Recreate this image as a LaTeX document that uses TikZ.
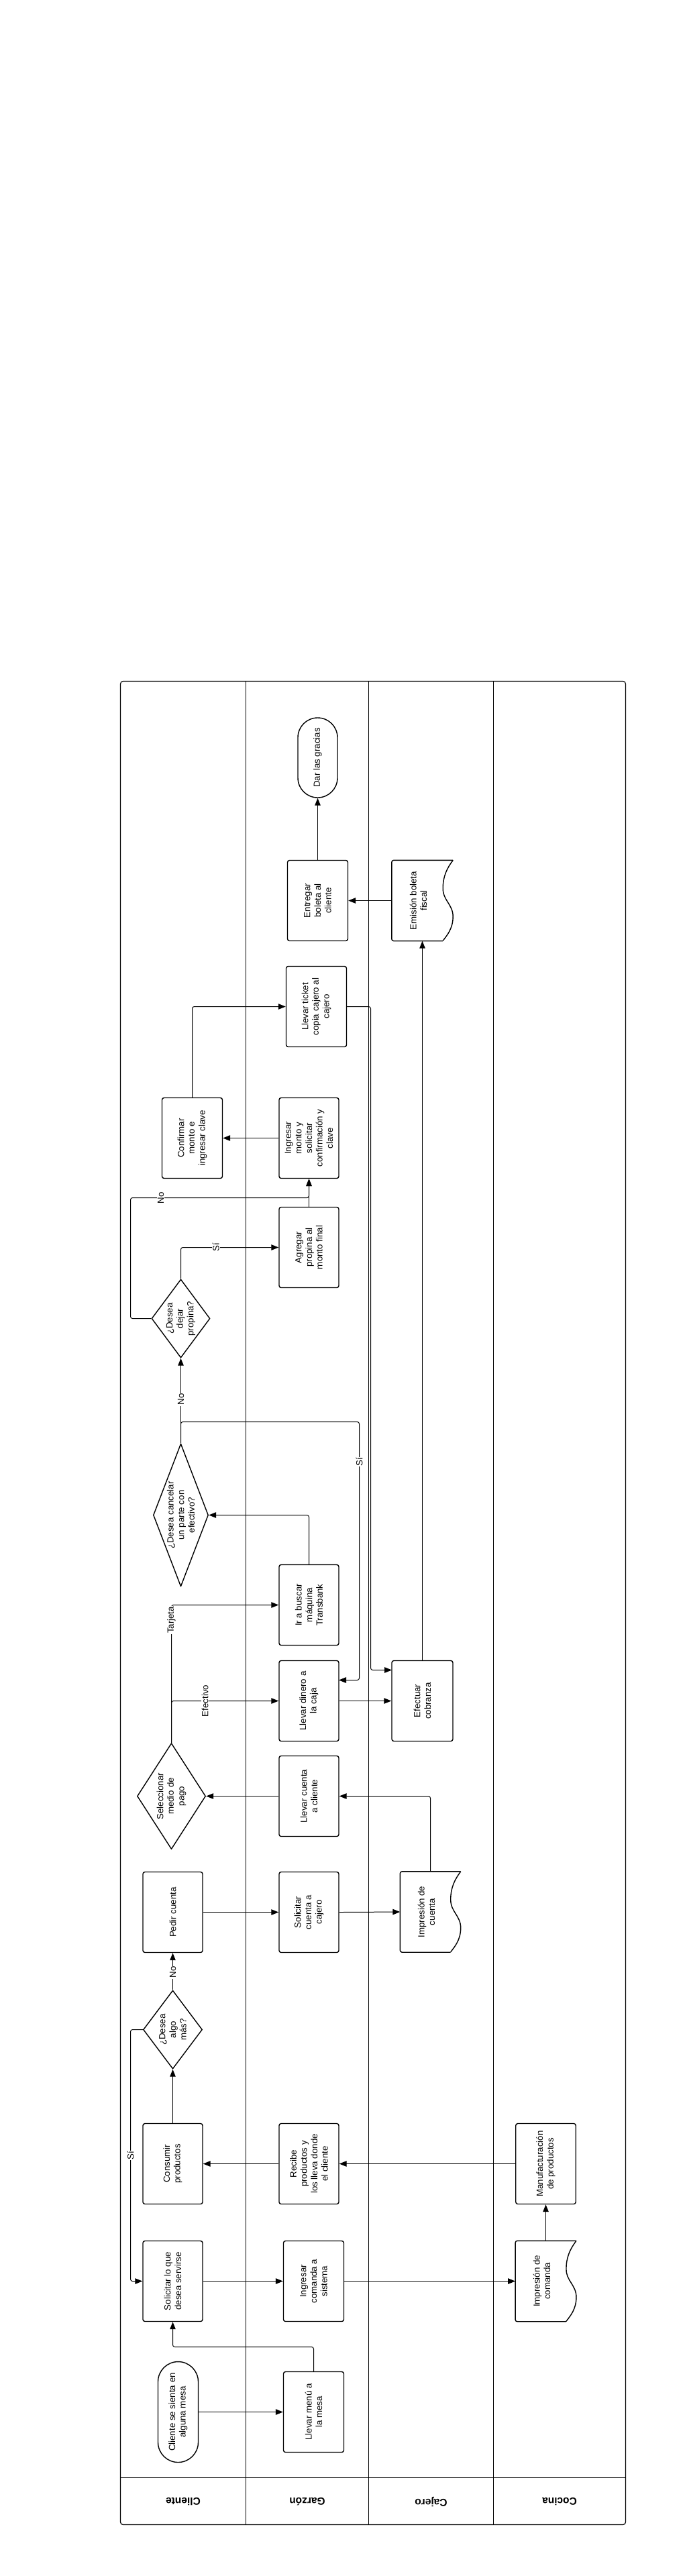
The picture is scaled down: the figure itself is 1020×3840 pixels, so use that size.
\documentclass[tikz,border=0pt]{standalone}
\usepackage{fontspec}
\setmainfont{Liberation Sans}
\usetikzlibrary{shapes.geometric,arrows.meta}
\newcommand\nfont{\fontsize{13.3}{15.6}\selectfont}
\newcommand\hfont{\fontsize{15.5}{18}\selectfont\bfseries}
\tikzset{
  lane/.style={line width=1.2pt},
  shp/.style={line width=1.4pt, line join=round},
  box/.style={shp, draw, rectangle, rounded corners=3pt, minimum width=89pt, minimum height=120pt, inner sep=0pt},
  term/.style={shp, draw, rectangle, rounded corners=29.5pt, minimum width=59pt, minimum height=119pt, inner sep=0pt},
  dia/.style={shp, draw, diamond, inner sep=0pt},
  docn/.style={rectangle, minimum height=120pt, inner sep=0pt},
  vtxt/.style={rotate=90, align=center, font=\nfont, inner sep=0pt},
  lbl/.style={rotate=90, fill=white, inner sep=1pt, font=\nfont},
  hdr/.style={rotate=180, font=\hfont},
  conn/.style={line width=1pt, rounded corners=3pt, -{Triangle[length=11pt,width=8.5pt]}},
}
\newcommand\docoutline[1]{%
  \draw[shp, rounded corners=3pt] ([xshift=-15pt]#1.south east) -- (#1.south west) -- (#1.north west) -- (#1.north east);
  \draw[shp] (#1.north east) .. controls ([shift={(-9pt,-12pt)}]#1.north east) and ([shift={(-15pt,-24pt)}]#1.north east) .. ([shift={(-15pt,-42pt)}]#1.north east)
     .. controls ([shift={(-15pt,-60pt)}]#1.north east) and ([shift={(0pt,-66pt)}]#1.north east) .. ([shift={(0pt,-84pt)}]#1.north east)
     .. controls ([shift={(0pt,-102pt)}]#1.north east) and ([shift={(-9pt,-112pt)}]#1.north east) .. ([shift={(-15pt,-120pt)}]#1.north east);
}
\begin{document}
\begin{tikzpicture}[x=1pt,y=-1pt]
\useasboundingbox (0,0) rectangle (1020,3840);
% frame and lanes
\draw[lane, rounded corners=4pt] (179.5,1015.5) rectangle (932.5,3763.5);
\draw[lane] (366.5,1015.5) -- (366.5,3763.5);
\draw[lane] (549.5,1015.5) -- (549.5,3763.5);
\draw[lane] (735.5,1015.5) -- (735.5,3763.5);
\draw[lane] (179.5,3693.5) -- (932.5,3693.5);
\node[hdr] (h1) at (273,3729) {Cliente};
\node[hdr] (h2) at (458,3729) {Garzón};
\node[hdr] (h3) at (642.5,3729) {Cajero};
\node[hdr] (h4) at (834,3729) {Cocina};

% Cliente lane
\node[term, minimum width=60pt, minimum height=150pt, rounded corners=30pt] (cliente) at (265.5,3595.5) {};
\node[vtxt] (cliente-t) at (cliente) {Cliente se sienta en\\alguna mesa};
\node[box] (solicitar) at (257.5,3400.5) {};
\node[vtxt] (solicitar-t) at (solicitar) {Solicitar lo que\\desea servirse};
\node[box] (consumir) at (257.5,3225.5) {};
\node[vtxt] (consumir-t) at (consumir) {Consumir\\productos};
\node[dia, minimum width=88pt, minimum height=117pt] (algomas) at (257.5,3025.5) {};
\node[vtxt] (algomas-t) at (algomas) {¿Desea\\algo\\más?};
\node[box] (pedir) at (257.5,2850.5) {};
\node[vtxt] (pedir-t) at (pedir) {Pedir cuenta};
\node[dia, minimum width=102pt, minimum height=158pt] (medio) at (255.5,2677.5) {};
\node[vtxt] (medio-t) at (medio) {Seleccionar\\medio de\\pago};
\node[dia, minimum width=82pt, minimum height=213pt] (cancelar) at (269.5,2258.5) {};
\node[vtxt] (cancelar-t) at (cancelar) {¿Desea cancelar\\un parte con\\efectivo?};
\node[dia, minimum width=87pt, minimum height=117pt] (propina) at (269.5,1965.5) {};
\node[vtxt] (propina-t) at (propina) {¿Desea\\dejar\\propina?};
\node[box, minimum width=90pt] (confirmar) at (286.5,1696.5) {};
\node[vtxt] (confirmar-t) at (confirmar) {Confirmar\\monto e\\ingresar clave};

% Garzon lane
\node[box, minimum width=90pt] (menu) at (467.5,3595.5) {};
\node[vtxt] (menu-t) at (menu) {Llevar menú a\\la mesa};
\node[box, minimum width=90pt] (comanda) at (467.5,3400.5) {};
\node[vtxt] (comanda-t) at (comanda) {Ingresar\\comanda a\\sistema};
\node[box] (recibe) at (460.5,3225.5) {};
\node[vtxt] (recibe-t) at (recibe) {Recibe\\productos y\\los lleva donde\\el cliente};
\node[box] (solcuenta) at (460.5,2850.5) {};
\node[vtxt] (solcuenta-t) at (solcuenta) {Solicitar\\cuenta a\\cajero};
\node[box] (llevcuenta) at (460.5,2677.5) {};
\node[vtxt] (llevcuenta-t) at (llevcuenta) {Llevar cuenta\\a cliente};
\node[box] (dinero) at (460.5,2535.5) {};
\node[vtxt] (dinero-t) at (dinero) {Llevar dinero a\\la caja};
\node[box] (transbank) at (460.5,2392.5) {};
\node[vtxt] (transbank-t) at (transbank) {Ir a buscar\\máquina\\Transbank};
\node[box] (agregar) at (460.5,1859.5) {};
\node[vtxt] (agregar-t) at (agregar) {Agregar\\propina al\\monto final};
\node[box] (ingmonto) at (460.5,1696.5) {};
\node[vtxt] (ingmonto-t) at (ingmonto) {Ingresar\\monto y\\solicitar\\confirmación y\\clave};
\node[box, minimum width=90pt] (ticket) at (471.5,1500.5) {};
\node[vtxt] (ticket-t) at (ticket) {Llevar ticket\\copia cajero al\\cajero};
\node[box, minimum width=90pt] (entregar) at (473.5,1342.5) {};
\node[vtxt] (entregar-t) at (entregar) {Entregar\\boleta al\\cliente};
\node[term] (gracias) at (473.5,1129.5) {};
\node[vtxt] (gracias-t) at (gracias) {Dar las gracias};

% Cajero lane
\node[docn, minimum width=90pt] (impcuenta) at (641.5,2850) {};
\docoutline{impcuenta}
\node[vtxt] (impcuenta-t) at ([xshift=-6pt]impcuenta.center) {Impresión de\\cuenta};
\node[box, minimum width=91pt] (cobranza) at (629.5,2535.5) {};
\node[vtxt] (cobranza-t) at (cobranza) {Efectuar\\cobranza};
\node[docn, minimum width=91pt] (emision) at (629.5,1342.5) {};
\docoutline{emision}
\node[vtxt] (emision-t) at ([xshift=-6pt]emision.center) {Emisión boleta\\fiscal};

% Cocina lane
\node[docn, minimum width=90.5pt] (impcomanda) at (813.5,3400.5) {};
\docoutline{impcomanda}
\node[vtxt] (impcomanda-t) at ([xshift=-6pt]impcomanda.center) {Impresión de\\comanda};
\node[box, minimum width=89.5pt] (manuf) at (813.5,3225.5) {};
\node[vtxt] (manuf-t) at (manuf) {Manufacturación\\de productos};

% connectors
\draw[conn] (cliente.east) -- (menu.west);
\draw[conn] (menu.north) |- (362,3498.5) -| (solicitar.south);
\draw[conn] (solicitar.east) -- (comanda.west);
\draw[conn] (comanda.east) -- (impcomanda.west);
\draw[conn] (impcomanda.north) -- (manuf.south);
\draw[conn] (manuf.west) -- (recibe.east);
\draw[conn] (recibe.west) -- (consumir.east);
\draw[conn] (consumir.north) -- (algomas.south);
\draw[conn] (algomas.north) -- (pedir.south);
\draw[conn] (algomas.west) -| (194.5,3213) |- (solicitar.west);
\draw[conn] (pedir.east) -- (solcuenta.west);
\draw[conn] (solcuenta.east) -- (impcuenta.west);
\draw[conn] (impcuenta.north) |- (llevcuenta.east);
\draw[conn] (llevcuenta.west) -- (medio.east);
\draw[conn] (medio.north) |- (dinero.west);
\draw[conn] (medio.north) |- (transbank.west);
\draw[conn] (dinero.east) -- (cobranza.west);
\draw[conn] (transbank.north) |- (cancelar.east);
\draw[conn] (cancelar.north) |- (535.5,2119.5) |- (505,2504.5);
\draw[conn] (cancelar.north) -- (propina.south);
\draw[conn] (propina.north) |- (agregar.west);
\draw[conn] (propina.west) -| (194.5,1785.5) -| (ingmonto.south);
\draw[conn] (agregar.north) -- (ingmonto.south);
\draw[conn] (ingmonto.west) -- (confirmar.east);
\draw[conn] (confirmar.north) |- (ticket.west);
\draw[conn] (ticket.east) -| (552.5,2489.5) -- (584,2489.5);
\draw[conn] (cobranza.north) -- (emision.south);
\draw[conn] (emision.west) -- (entregar.east);
\draw[conn] (entregar.north) -- (gracias.south);

% connector labels
\node[lbl] (l1) at (257.5,2940) {No};
\node[lbl] (l2) at (194.5,3213) {Sí};
\node[lbl] (l3) at (305.5,2535.5) {Efectivo};
\node[lbl] (l4) at (255.5,2415) {Tarjeta};
\node[lbl] (l5) at (535.5,2179) {Sí};
\node[lbl] (l6) at (269.5,2086) {No};
\node[lbl] (l7) at (321.7,1859.5) {Sí};
\node[lbl] (l8) at (239.7,1785.5) {No};
\end{tikzpicture}
\end{document}
